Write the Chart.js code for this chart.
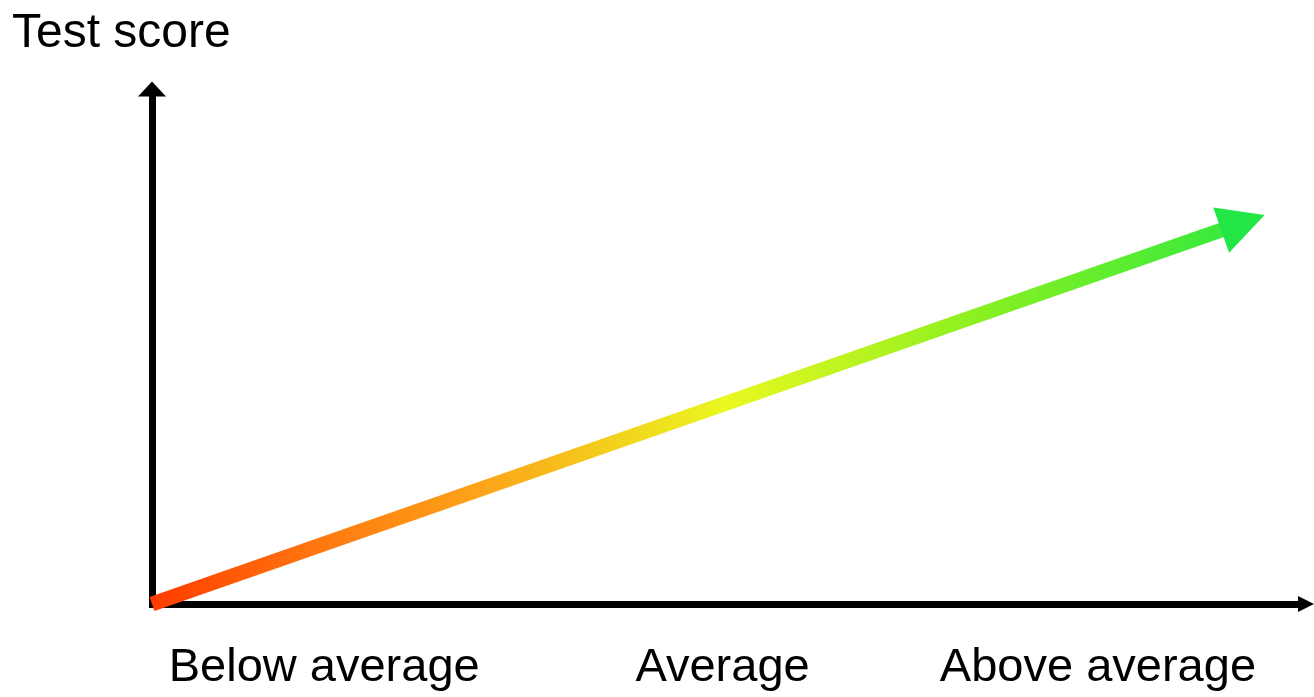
<!DOCTYPE html>
<html>
<head>
<meta charset="utf-8">
<script src="https://cdn.jsdelivr.net/npm/chart.js@4/dist/chart.umd.min.js"></script>
<style>
  html, body { margin: 0; padding: 0; background: #fff; }
  #wrap { width: 1314px; height: 697px; }
</style>
</head>
<body>
<div id="wrap"><canvas id="grafica"></canvas></div>
<script>
// datos
var categorias = ['Below average', 'Average', 'Above average'];
var posCategorias = [15, 49.7, 82.4];
var tendenciaX = [0, 93.3];
var tendenciaY = [0, 72.8];
var tituloY = 'Test score';

var fuente = "'Liberation Sans', Arial, sans-serif";

// flechas de los ejes y de la linea
const flechas = {
    id: 'flechas',
    afterDatasetsDraw(chart) {
        const c = chart.ctx;
        const a = chart.chartArea;
        c.save();
        c.fillStyle = '#000';
        // eje y
        c.beginPath();
        c.moveTo(a.left, a.top - 8);
        c.lineTo(a.left - 14, a.top + 7);
        c.lineTo(a.left + 14, a.top + 7);
        c.closePath();
        c.fill();
        // eje x
        c.beginPath();
        c.moveTo(a.right + 14, a.bottom);
        c.lineTo(a.right - 2, a.bottom - 8);
        c.lineTo(a.right - 2, a.bottom + 8);
        c.closePath();
        c.fill();
        c.fillRect(a.right - 4, a.bottom - 3, 6, 6);

        // punta verde
        const pts = chart.getDatasetMeta(0).data;
        const p0 = pts[pts.length - 2], p1 = pts[pts.length - 1];
        const ang = Math.atan2(p1.y - p0.y, p1.x - p0.x);
        const largo = 44, ancho = 24;
        c.translate(p1.x, p1.y);
        c.rotate(ang);
        c.fillStyle = '#22e646';
        c.beginPath();
        c.moveTo(largo, 0);
        c.lineTo(-2, -ancho);
        c.lineTo(-2, ancho);
        c.closePath();
        c.fill();
        c.restore();
    }
};

const ctx = document.getElementById('grafica');

new Chart(ctx, {
    type: 'line',
    data: {
        datasets: [{
            data: tendenciaX.map((x, i) => ({ x: x, y: tendenciaY[i] })),
            borderWidth: 15,
            borderCapStyle: 'butt',
            pointRadius: 0,
            clip: false,
            borderColor: function (context) {
                const area = context.chart.chartArea;
                if (!area) return '#ff8000';
                const g = context.chart.ctx.createLinearGradient(area.left, 0, area.right, 0);
                g.addColorStop(0, '#ff3c00');
                g.addColorStop(0.15, '#ff7a10');
                g.addColorStop(0.3, '#fca81a');
                g.addColorStop(0.5, '#eaf820');
                g.addColorStop(0.72, '#8af020');
                g.addColorStop(1, '#20e846');
                return g;
            }
        }]
    },
    options: {
        responsive: true,
        maintainAspectRatio: false,
        animation: false,
        layout: {
            padding: { left: 12, right: 14, top: 0, bottom: 0 }
        },
        plugins: {
            legend: { display: false },
            tooltip: { enabled: false },
            title: {
                display: true,
                text: tituloY,
                align: 'start',
                color: '#000',
                font: { family: fuente, size: 48, weight: 'normal' },
                padding: { top: 5, bottom: 27 }
            }
        },
        scales: {
            x: {
                type: 'linear',
                min: 0,
                max: 100,
                grid: { display: false, drawTicks: false },
                border: { display: true, color: '#000', width: 7 },
                afterBuildTicks: function (scale) {
                    scale.ticks = posCategorias.map(v => ({ value: v }));
                },
                afterFit: function (scale) {
                    scale.height = 93;
                },
                ticks: {
                    autoSkip: false,
                    maxRotation: 0,
                    padding: 36,
                    color: '#000',
                    font: { family: fuente, size: 47 },
                    callback: function (value, index) {
                        return categorias[index];
                    }
                }
            },
            y: {
                min: 0,
                max: 100,
                grid: { display: false, drawTicks: false },
                border: { display: true, color: '#000', width: 7 },
                ticks: { display: false },
                afterFit: function (scale) {
                    scale.width = 140;
                }
            }
        }
    },
    plugins: [flechas]
});
</script>
</body>
</html>
